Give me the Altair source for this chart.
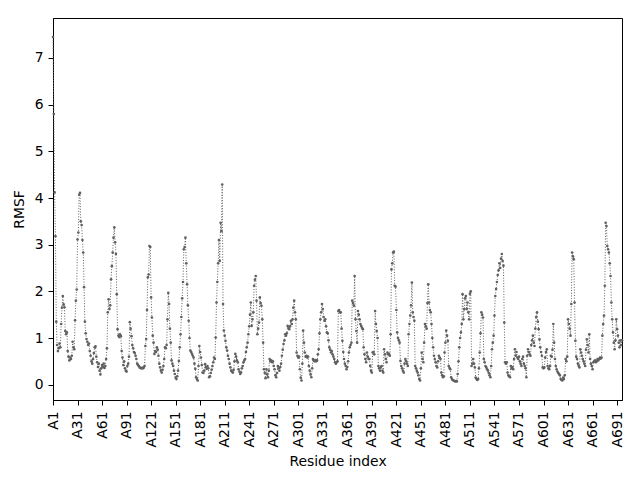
import altair as alt
import pandas as pd

rmsf = [
    7.45, 5.80, 4.12, 3.18, 1.35, 0.85, 0.72, 0.78, 0.88, 0.80,
    1.30, 1.65, 1.90, 1.72, 1.66, 1.15, 1.08, 1.12, 0.72, 0.60,
    0.52, 0.58, 0.55, 0.62, 0.92, 0.80, 0.76, 1.38, 1.80, 2.04,
    3.11, 3.26, 4.07, 4.11, 3.50, 3.42, 3.10, 2.83, 2.09, 1.35,
    1.10, 0.98, 0.92, 0.85, 0.88, 0.72, 0.62, 0.50, 0.45, 0.55,
    0.68, 0.80, 0.82, 0.60, 0.48, 0.38, 0.45, 0.30, 0.22, 0.35,
    0.42, 0.38, 0.45, 0.36, 0.40, 0.55, 0.78, 1.55, 1.83, 1.62,
    1.70, 2.26, 2.54, 2.83, 3.15, 3.37, 3.05, 2.80, 1.94, 1.19,
    1.05, 1.02, 1.08, 1.04, 0.72, 0.58, 0.42, 0.50, 0.35, 0.30,
    0.28, 0.40, 0.45, 0.60, 1.34, 1.20, 1.04, 0.85, 0.78, 0.70,
    0.68, 0.62, 0.55, 0.45, 0.42, 0.40, 0.37, 0.36, 0.35,
    0.36, 0.35, 0.37, 0.40, 0.83, 0.98, 1.60, 2.30, 2.36, 2.97,
    2.95, 1.87, 1.44, 1.05, 0.90, 0.66, 0.72, 0.70, 0.80, 0.75,
    0.62, 0.45, 0.37, 0.30, 0.26, 0.32, 0.40, 0.55, 0.80, 0.78,
    0.85, 1.40, 1.97, 1.73, 1.20, 0.90, 0.52, 0.45, 0.40, 0.30,
    0.23, 0.15, 0.12, 0.18, 0.30, 0.51, 0.80, 1.08, 1.45, 1.85,
    2.20, 2.90, 2.95, 3.15, 2.60, 2.15, 1.70, 1.37, 1.00, 0.73,
    0.70, 0.66, 0.62, 0.58, 0.45, 0.34, 0.16, 0.12, 0.09, 0.40,
    0.83, 0.70, 0.58, 0.42, 0.26, 0.25, 0.30, 0.44, 0.38, 0.34,
    0.40, 0.35, 0.16, 0.18, 0.25, 0.32, 0.40, 0.48, 0.58, 0.55,
    1.01, 1.76, 2.20, 2.60, 3.10, 2.65, 3.47, 3.29, 4.29, 1.73,
    1.16, 1.05, 0.94, 0.80, 0.73, 0.62, 0.55, 0.45, 0.37, 0.30,
    0.28, 0.26, 0.32, 0.50, 0.66, 0.60, 0.52, 0.48, 0.33,
    0.28, 0.23, 0.26, 0.35, 0.40, 0.48, 0.52, 0.55, 0.70, 0.80,
    0.90, 1.08, 1.25, 1.50, 1.76, 1.26, 1.40, 1.55, 2.12, 2.25,
    2.33, 1.80, 1.08, 1.20, 1.33, 1.87, 1.75, 1.69, 1.40, 0.90,
    0.33, 0.25, 0.14, 0.33, 0.22, 0.16, 0.30, 0.55, 0.50, 0.52,
    0.48, 0.50, 0.40, 0.33, 0.20, 0.16, 0.25, 0.40, 0.35, 0.30,
    0.38, 0.45, 0.62, 0.75, 0.87, 0.95, 1.08, 1.05, 1.10, 1.26,
    1.22, 1.19, 1.25, 1.37, 1.30, 1.40, 1.65, 1.80, 1.55, 1.40,
    0.69, 0.62, 0.58, 0.60, 0.33, 0.15, 0.09, 0.45, 1.16, 0.90,
    0.69, 0.60, 0.62, 0.58, 0.60, 0.40, 0.30, 0.22, 0.16, 0.35,
    0.55, 0.52, 0.50, 0.53, 0.50, 0.52, 0.65, 0.76, 1.10, 1.40,
    1.55, 1.73, 1.62, 1.45, 1.37, 1.40, 1.25, 1.12, 1.10, 0.95,
    0.80, 0.75, 0.69, 0.72, 0.65, 0.60, 0.55, 0.48, 0.45, 0.48,
    0.50, 1.58, 1.60, 1.55, 1.55, 1.20, 0.94, 0.70, 0.55, 0.45,
    0.40, 0.33, 0.38, 0.50, 0.69, 0.80, 0.85, 0.90, 1.80,
    1.75, 1.69, 2.33, 1.40, 1.15, 0.90, 1.58, 1.50, 1.40, 1.30,
    1.26, 1.22, 1.19, 0.80, 0.65, 0.55, 0.48, 0.69, 0.60, 0.55,
    0.55, 0.40, 0.30, 0.26, 0.69, 0.70, 0.65, 1.58, 1.30, 1.15,
    1.00, 0.40, 0.35, 0.30, 0.38, 0.40, 0.30, 0.26, 0.76, 0.65,
    0.55, 0.48, 0.69, 0.65, 0.66, 0.62, 1.08, 2.47, 2.60, 2.83,
    2.85, 2.12, 2.10, 1.60, 1.12, 1.00, 0.95, 0.90, 0.51, 0.40,
    0.35, 0.30, 0.26, 0.45, 0.55, 0.50, 0.45, 0.40, 1.08, 1.30,
    1.48, 1.70, 2.19, 1.55, 1.45, 1.37, 0.40, 0.35, 0.30, 0.26,
    0.20, 0.12, 0.09, 0.35, 0.69, 0.55, 0.48, 0.90, 1.30, 1.25,
    1.20, 1.75, 2.15, 1.76, 1.60, 1.55, 1.30, 1.00, 0.80, 0.62,
    0.55, 0.48, 0.40, 0.37, 0.50, 0.62, 0.58, 0.55, 0.26, 0.20,
    0.16, 0.18, 0.69, 0.90, 1.16, 1.05, 0.94, 0.40, 0.36, 0.33,
    0.16, 0.12, 0.10, 0.09, 0.08, 0.07, 0.08, 0.07, 0.23,
    0.50, 0.80, 1.00, 1.12, 1.30, 1.94, 1.40, 1.62, 1.85, 1.90,
    1.62, 1.76, 1.55, 1.40, 1.95, 2.00, 0.40, 0.45, 0.55, 0.45,
    0.37, 0.15, 0.12, 0.10, 0.12, 0.35, 0.69, 1.10, 1.55, 1.50,
    1.44, 0.55, 0.48, 0.40, 0.37, 0.33, 0.30, 0.25, 0.20, 0.16,
    0.40, 0.76, 0.90, 1.05, 1.48, 1.90, 2.05, 2.20, 2.35, 2.45,
    2.60, 2.50, 2.70, 2.80, 2.65, 2.55, 1.33, 0.48, 0.45, 0.48,
    0.26, 0.20, 0.18, 0.16, 0.40, 0.35, 0.38, 0.33, 0.55, 0.76,
    0.62, 0.70, 0.58, 0.55, 0.60, 0.50, 0.45, 0.40, 0.55, 0.60,
    0.45, 0.40, 0.35, 0.16, 0.62, 0.76, 0.70, 0.65, 0.62, 0.85,
    0.95, 1.05, 0.90, 0.83, 1.20, 1.45, 1.55, 1.35, 1.19, 0.97,
    0.80, 0.70, 0.62, 0.37, 0.35, 0.37, 0.58, 0.70, 0.76, 0.40,
    0.35, 0.33, 0.40, 0.62, 0.60, 0.75, 1.30, 0.90, 0.55, 0.40,
    0.33, 0.28, 0.25, 0.23, 0.20, 0.12, 0.10, 0.09, 0.15,
    0.12, 0.20, 0.55, 0.50, 0.60, 1.40, 1.30, 1.20, 1.05, 1.73,
    2.83, 2.75, 2.69, 1.76, 0.94, 0.60, 0.55, 0.45, 0.40, 0.37,
    0.76, 0.69, 0.62, 0.55, 0.50, 0.45, 0.40, 0.75, 0.97, 0.85,
    0.69, 1.08, 0.55, 0.45, 0.40, 0.33, 0.48, 0.50, 0.52, 0.48,
    0.50, 0.55, 0.52, 0.55, 0.58, 0.56, 0.58, 1.05, 1.30, 1.48,
    2.12, 3.47, 3.40, 2.97, 2.90, 2.83, 2.60, 2.33, 1.76, 1.40,
    1.12, 0.90, 0.76, 0.95, 1.40, 1.19, 1.05, 0.90, 0.80, 0.95,
    0.85, 0.95,
]

residue_index = list(range(len(rmsf)))
x_tick_values = list(range(0, 691, 30))
y_tick_values = list(range(0, 8))

df = pd.DataFrame({"idx": residue_index, "rmsf": rmsf})

FONT = "DejaVu Sans"
COLOR = "#606060"

x_enc = alt.X(
    "idx:Q",
    scale=alt.Scale(domain=[0, len(rmsf) - 1], nice=False, zero=False),
    axis=alt.Axis(
        values=x_tick_values,
        labelExpr="'A' + (datum.value + 1)",
        labelAngle=270,
        labelAlign="right",
        labelBaseline="middle",
        labelPadding=6,
        title="Residue index",
        titlePadding=7,
    ),
)
y_enc = alt.Y(
    "rmsf:Q",
    scale=alt.Scale(domain=[-0.328, 7.857], nice=False, zero=False),
    axis=alt.Axis(values=y_tick_values, title="RMSF", labelPadding=5, titlePadding=8),
)

line = alt.Chart(df).mark_line(
    color=COLOR, strokeWidth=1, strokeDash=[1, 1.7]
).encode(x=x_enc, y=y_enc)

pts = alt.Chart(df).mark_circle(color=COLOR, size=7, opacity=1).encode(x=x_enc, y=y_enc)

chart = (
    alt.layer(line, pts)
    .properties(
        width=569,
        height=382,
        autosize=alt.AutoSizeParams(type="none"),
        padding={"left": 45, "top": 10, "right": 8, "bottom": 72},
    )
    .configure_view(stroke="black", strokeWidth=1)
    .configure_axis(
        grid=False,
        domainColor="black",
        tickColor="black",
        tickSize=5,
        labelFont=FONT,
        titleFont=FONT,
        labelFontSize=13.9,
        titleFontSize=13.9,
        titleFontWeight="normal",
        labelColor="black",
        titleColor="black",
    )
)

chart.save("out.html", embed_options={"renderer": "svg", "actions": False})
